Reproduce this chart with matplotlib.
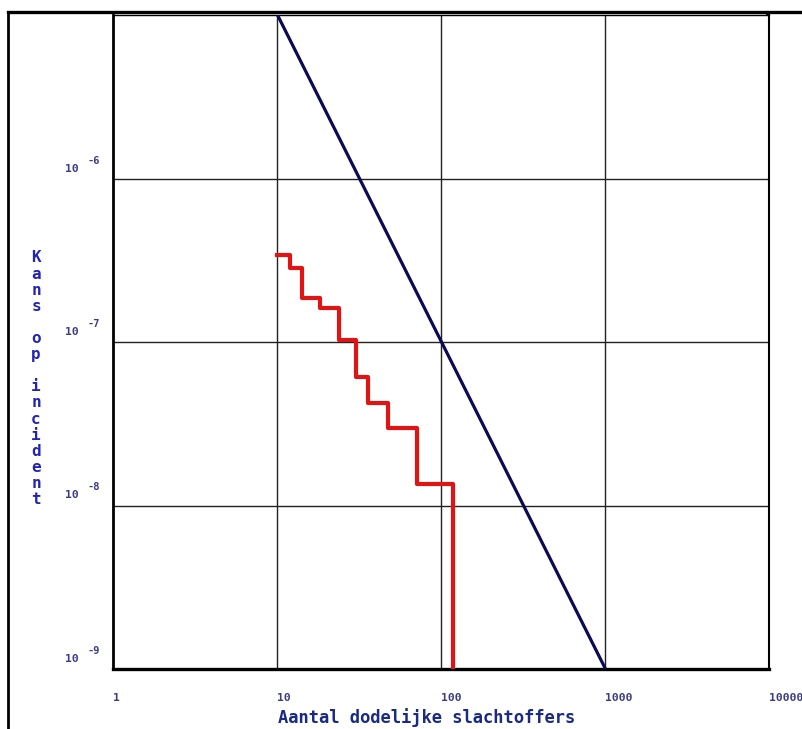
import matplotlib
matplotlib.use("Agg")
import matplotlib.pyplot as plt
from matplotlib.lines import Line2D
from matplotlib.transforms import offset_copy

# FN-curve: orientatiewaarde (blauw) en berekend groepsrisico (rood, trap)
norm_x = [10, 1000]
norm_y = [1e-5, 1e-9]

risk_x = [10, 12, 14.2, 18.2, 23.8, 30, 35.8, 47.4, 71.2, 117]
risk_y = [3.42e-7, 2.84e-7, 1.86e-7, 1.62e-7, 1.03e-7, 6.1e-8, 4.26e-8, 2.96e-8, 1.35e-8, 1e-9]

x_ticks = [1, 10, 100, 1000, 10000]
x_tick_labels = ["1", "10", "100", "1000", "10000"]
y_ticks = [1e-9, 1e-8, 1e-7, 1e-6]
y_tick_exp = ["-9", "-8", "-7", "-6"]

x_title = "Aantal dodelijke slachtoffers"
y_title = "Kans op incident"

MONO = "DejaVu Sans Mono"
TICK_C = "#3c3c86"

fig = plt.figure(figsize=(8.03, 7.29), dpi=100)
W, H = 803, 729
ax = fig.add_axes([113.5 / W, 60 / H, 656 / W, 654 / H])

ax.set_xscale("log")
ax.set_yscale("log")
ax.set_xlim(1, 10000)
ax.set_ylim(1e-9, 1e-5)

ax.plot(norm_x, norm_y, color="#0b0b55", lw=2.3, solid_capstyle="butt", zorder=3)
ax.step(risk_x, risk_y, where="post", color="#e01414", lw=3.0, zorder=4)

# grid: decades only
ax.minorticks_off()
for xv in x_ticks[1:-1]:
    ax.axvline(xv, color="#222222", lw=1.0, zorder=1)
for yv in y_ticks[1:]:
    ax.axhline(yv, color="#222222", lw=1.0, zorder=1)

ax.spines["bottom"].set_linewidth(2.4)
ax.spines["left"].set_linewidth(2.0)
ax.spines["top"].set_linewidth(1.0)
ax.spines["right"].set_linewidth(1.5)
for s in ax.spines.values():
    s.set_color("black")

# x tick labels, left aligned on the tick
ax.set_xticks(x_ticks)
ax.set_xticklabels(x_tick_labels, fontfamily=MONO, fontweight="bold",
                   fontsize=8.2, color=TICK_C, ha="left")
ax.tick_params(axis="x", length=0, pad=17)
ax.set_yticks([])

# y tick labels as "10" with raised exponent
ytr = ax.get_yaxis_transform()
for yv, ex in zip(y_ticks, y_tick_exp):
    ax.text(-0.074, yv, "10", transform=offset_copy(ytr, fig, y=10, units="dots"),
            fontfamily=MONO, fontweight="bold", fontsize=8.2, color=TICK_C,
            va="center", ha="left")
    ax.text(-0.039, yv, ex, transform=offset_copy(ytr, fig, y=18, units="dots"),
            fontfamily=MONO, fontweight="bold", fontsize=7.5, color=TICK_C,
            va="center", ha="left")

# axis titles
fig.text(427 / W, 1 - 718 / H, x_title, fontfamily=MONO, fontweight="bold",
         fontsize=12.3, color="#1b2a82", ha="center", va="center")
row = 0
for ch in y_title:
    if ch != " ":
        fig.text(36 / W, 1 - (258 + row * 16.1) / H, ch, fontfamily=MONO,
                 fontweight="bold", fontsize=11.5, color="#2424b4",
                 ha="center", va="center")
    row += 1

# outer frame of the original picture
fig.add_artist(Line2D([8 / W, 8 / W], [0, 1 - 12 / H], transform=fig.transFigure,
                      color="black", lw=2.0))
fig.add_artist(Line2D([8 / W, 1], [1 - 12 / H, 1 - 12 / H], transform=fig.transFigure,
                      color="black", lw=2.4))
fig.add_artist(Line2D([767.5 / W, 767.5 / W], [1 - 12 / H, 1 - 15 / H],
                      transform=fig.transFigure, color="black", lw=1.5))

fig.savefig("out.png", dpi=100)
